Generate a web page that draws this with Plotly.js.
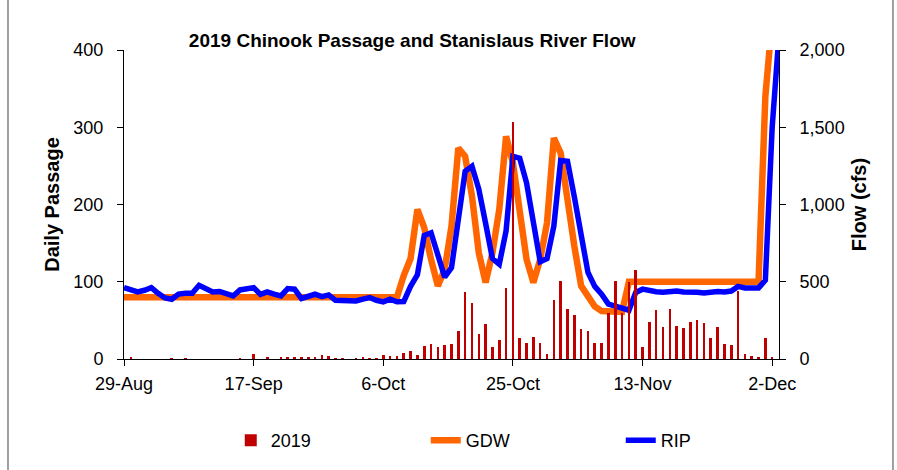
<!DOCTYPE html>
<html>
<head>
<meta charset="utf-8">
<script src="https://cdn.plot.ly/plotly-3.0.1.min.js"></script>
<style>html,body{margin:0;padding:0;background:#fff;}#chart{width:897px;height:470px;}</style>
</head>
<body>
<div id="chart"></div>
<script>
// Dates: daily from 29-Aug-2019 to 3-Dec-2019 (97 days)
const startDate = '2019-08-29';
const dayCount = 97;
const tickLabels = ['29-Aug', '17-Sep', '6-Oct', '25-Oct', '13-Nov', '2-Dec'];
const tickDates = ['2019-08-29', '2019-09-17', '2019-10-06', '2019-10-25', '2019-11-13', '2019-12-02'];

// Daily Chinook passage (2019)
const passage2019 = [0,2,0,0,0,0,0,1,0,1, 0,0,0,0,0,0,0,1,0,6, 0,2,0,2,2,2,2,3,3,5,
  4,1,1,0,1,2,1,1,5,4, 4,8,10,5,17,20,15,18,20,36, 87,72,33,45,16,25,92,307,27,21,
  29,21,7,77,101,65,57,39,36,21, 21,60,101,60,100,115,15,48,64,42, 65,43,40,48,50,46,27,42,20,18,
  88,7,4,2,27,2,0];

// Flow at Goodwin Dam (cfs)
const flowGDW = [400,400,400,400,400,400,400,400,400,400, 400,400,400,400,400,400,400,400,400,400,
  400,400,400,400,400,400,400,400,400,400, 400,400,400,400,400,400,400,400,400,400,
  400,540,650,968,850,645,473,580,860,1366, 1312,1054,688,495,688,968,1441,1269,925,645,
  495,645,882,1430,1333,1011,731,473,400,340, 310,305,305,305,500,500,500,500,500,500,
  500,500,500,500,500,500,500,500,500,500, 500,500,500,500,1700,2200,2300];

// Flow at Ripon (cfs)
const flowRIP = [462,450,434,445,462,425,395,387,420,426, 426,477,455,434,437,420,408,447,455,462,
  418,434,420,408,456,452,392,405,419,404, 415,380,378,376,376,388,398,380,370,387,
  370,372,470,545,800,817,680,530,591,900, 1215,1247,1100,878,650,613,830,1312,1300,1140,
  880,630,650,860,1285,1280,1050,800,560,470, 420,355,345,330,315,430,452,440,435,432,
  437,440,434,437,432,428,434,437,434,440, 470,460,460,460,510,1500,2100];

function buildDates(start, n) {
  const out = [];
  const d0 = new Date(start + 'T00:00:00Z');
  for (let i = 0; i < n; i++) {
    const d = new Date(d0.getTime() + i * 86400000);
    out.push(d.toISOString().slice(0, 10));
  }
  return out;
}
const dates = buildDates(startDate, dayCount);

const FONT = 'Liberation Sans, Arial, sans-serif';

const traces = [
  { type: 'bar', name: '2019', x: dates, y: passage2019, yaxis: 'y2',
    marker: { color: '#C00000' }, width: 86400000 * 0.38 },
  { type: 'scatter', mode: 'lines', name: 'GDW', x: dates, y: flowGDW, yaxis: 'y',
    line: { color: '#FF6600', width: 6.5 } },
  { type: 'scatter', mode: 'lines', name: 'RIP', x: dates, y: flowRIP, yaxis: 'y',
    line: { color: '#0000FF', width: 5.5 } }
];

const layout = {
  width: 897, height: 470,
  paper_bgcolor: '#ffffff', plot_bgcolor: '#ffffff',
  margin: { l: 124, r: 118, t: 50, b: 110 },
  font: { family: FONT, size: 18, color: '#000' },
  title: { text: '2019 Chinook Passage and Stanislaus River Flow',
    font: { family: FONT, size: 19, color: '#000', weight: 'bold' },
    x: 0.44, xref: 'paper', xanchor: 'center', y: 0.915, yref: 'container', yanchor: 'middle' },
  showlegend: true,
  legend: { orientation: 'h', x: 0.163, y: -0.26, xanchor: 'left', yanchor: 'middle',
    entrywidth: 150, font: { family: FONT, size: 18, color: '#000' }, bgcolor: 'rgba(0,0,0,0)' },
  bargap: 0,
  xaxis: { type: 'date', range: ['2019-08-29', '2019-12-03'],
    tickmode: 'array', tickvals: tickDates, ticktext: tickLabels,
    ticks: 'outside', ticklen: 6, tickcolor: '#000', showline: true, linecolor: '#000', linewidth: 1,
    showgrid: false, zeroline: false, ticklabelstandoff: 2,
    tickfont: { family: FONT, size: 18, color: '#000' } },
  yaxis: { range: [0, 2000], tickvals: [0, 500, 1000, 1500, 2000], tickformat: ',d', side: 'right',
    ticks: 'outside', ticklen: 6, tickcolor: '#000', showline: true, linecolor: '#000', linewidth: 1,
    showgrid: false, zeroline: false, ticklabelstandoff: 10,
    tickfont: { family: FONT, size: 18, color: '#000' },
    title: { text: 'Flow (cfs)', font: { family: FONT, size: 20, color: '#000', weight: 'bold' }, standoff: 8 } },
  yaxis2: { range: [0, 400], tickvals: [0, 100, 200, 300, 400], side: 'left', overlaying: 'y',
    ticks: 'outside', ticklen: 6, tickcolor: '#000', showline: true, linecolor: '#000', linewidth: 1,
    showgrid: false, zeroline: false, ticklabelstandoff: 10,
    tickfont: { family: FONT, size: 18, color: '#000' },
    title: { text: 'Daily Passage', font: { family: FONT, size: 20, color: '#000', weight: 'bold' }, standoff: 8 } },
  shapes: [
    { type: 'line', xref: 'paper', yref: 'paper', x0: -0.1771, x1: -0.1771, y0: -0.4, y1: 1.2,
      line: { color: '#808080', width: 1.5 } },
    { type: 'line', xref: 'paper', yref: 'paper', x0: 1.174, x1: 1.174, y0: -0.4, y1: 1.2,
      line: { color: '#808080', width: 1.5 } }
  ]
};

Plotly.newPlot('chart', traces, layout, { displayModeBar: false, staticPlot: true });
</script>
</body>
</html>
